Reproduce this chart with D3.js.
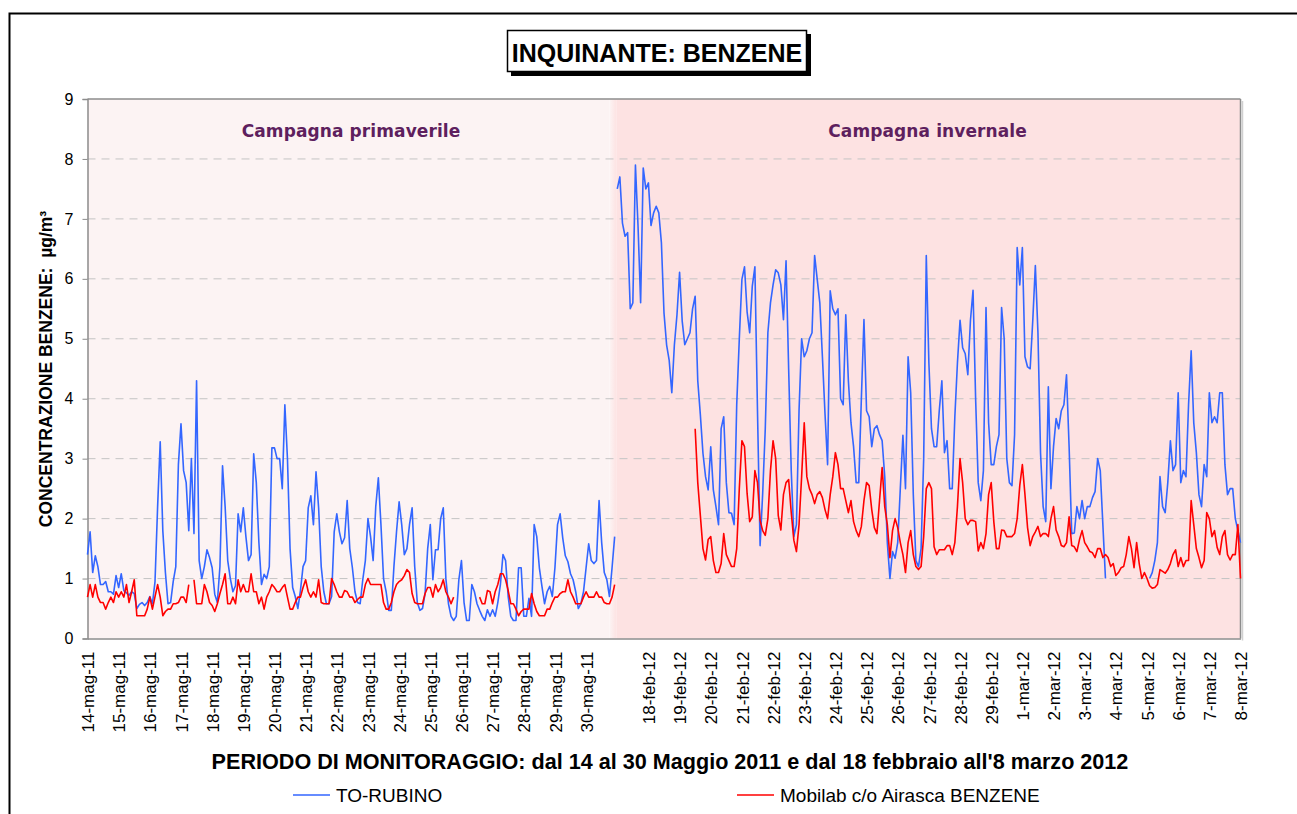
<!DOCTYPE html>
<html>
<head>
<meta charset="utf-8">
<script src="https://cdn.jsdelivr.net/npm/d3@7"></script>
<style>
  body { margin: 0; background: #fff; }
  svg { display: block; font-family: Arial, "Liberation Sans", sans-serif; }
</style>
</head>
<body>
<svg id="chart" width="1297" height="814"></svg>
<script>
// one label per day, every 24 hourly categories (17 feb has no label)
const dayLabels = [
  "14-mag-11","15-mag-11","16-mag-11","17-mag-11","18-mag-11","19-mag-11","20-mag-11",
  "21-mag-11","22-mag-11","23-mag-11","24-mag-11","25-mag-11","26-mag-11","27-mag-11",
  "28-mag-11","29-mag-11","30-mag-11","",
  "18-feb-12","19-feb-12","20-feb-12","21-feb-12","22-feb-12","23-feb-12","24-feb-12",
  "25-feb-12","26-feb-12","27-feb-12","28-feb-12","29-feb-12",
  "1-mar-12","2-mar-12","3-mar-12","4-mar-12","5-mar-12","6-mar-12","7-mar-12","8-mar-12"
];
const seriesNames = ["TO-RUBINO", "Mobilab c/o Airasca BENZENE"];
const seriesColors = ["#3366ff", "#ff0000"];
const campaigns = ["Campagna primaverile", "Campagna invernale"];

// values read every 2 hours, 12 per day
// spring campaign: 14-30 May 2011
const rubinoMay = [
  1.4,1.78,1.1,1.38,1.2,0.9,0.9,0.95,0.78,0.78,0.74,1.05,
  0.85,1.08,0.8,0.76,0.72,0.78,0.75,0.5,0.57,0.6,0.55,0.6,
  0.7,0.58,0.95,2.2,3.28,1.8,1.1,0.58,0.6,0.95,1.2,2.9,
  3.58,2.8,2.6,1.8,3.0,1.75,4.3,1.3,1.0,1.2,1.48,1.35,
  1.18,0.74,0.6,1.2,2.88,2.2,1.3,1.0,0.78,0.88,2.08,1.78,
  2.18,1.7,1.3,1.4,3.08,2.6,1.6,0.9,1.07,1.0,1.2,3.18,
  3.18,3.0,3.0,2.5,3.9,3.0,1.5,0.85,0.7,0.5,0.8,1.2,
  1.3,2.18,2.38,1.9,2.78,2.18,1.2,0.78,0.58,0.58,0.7,1.78,
  2.08,1.78,1.58,1.68,2.3,1.5,1.18,0.78,0.6,0.58,0.98,1.3,
  2.0,1.7,1.3,2.2,2.68,1.9,1.0,0.78,0.47,0.47,1.2,1.78,
  2.28,1.9,1.4,1.5,1.9,2.18,1.2,0.6,0.47,0.5,0.75,1.5,
  1.9,0.98,1.48,1.48,2.0,2.18,1.0,0.58,0.37,0.3,0.37,0.98,
  1.3,0.6,0.3,0.3,0.9,0.78,0.58,0.47,0.37,0.3,0.48,0.37,
  0.48,0.37,0.6,0.9,1.4,1.3,0.7,0.37,0.3,0.3,1.18,1.18,
  0.37,0.37,0.67,0.37,1.9,1.7,1.18,0.87,0.58,0.78,0.87,0.7,
  1.18,1.9,2.08,1.68,1.38,1.28,1.08,0.98,0.78,0.5,0.58,0.78,
  1.18,1.58,1.3,1.25,1.3,2.3,1.6,1.1,0.98,0.7,1.18,1.7
];
const mobilabMay = [
  0.69,0.9,0.69,0.9,0.69,0.6,0.6,0.49,0.6,0.69,0.6,0.78,
  0.69,0.78,0.69,0.9,0.6,0.78,0.98,0.38,0.38,0.38,0.38,0.49,
  0.69,0.49,0.7,0.9,0.69,0.38,0.45,0.49,0.49,0.58,0.58,0.6,
  0.69,0.69,0.6,0.9,null,0.98,0.58,0.58,0.58,0.9,0.78,0.6,
  0.55,0.45,0.58,0.75,0.9,1.08,0.58,0.58,0.69,0.58,0.98,0.78,
  0.9,0.78,0.78,1.08,0.78,0.78,0.58,0.69,0.49,0.69,0.78,0.9,
  0.85,0.78,0.78,0.85,0.9,0.69,0.49,0.49,0.6,0.69,0.69,0.85,
  0.98,0.78,0.69,0.78,0.69,0.98,0.6,0.58,0.58,0.58,1.0,0.9,
  0.78,0.69,0.69,0.8,0.78,0.69,0.69,0.6,0.65,0.69,0.69,0.9,
  1.0,0.9,0.9,0.9,0.9,0.9,0.6,0.49,0.49,0.6,0.78,0.9,
  0.95,0.98,1.05,1.15,1.1,0.75,0.6,0.58,0.58,0.58,0.75,0.85,
  0.85,0.69,0.9,0.78,0.85,0.98,0.78,0.69,0.58,0.69,null,null,
  null,null,null,null,null,null,null,0.69,0.58,0.58,0.8,0.78,
  0.58,0.78,0.9,1.08,1.08,0.98,0.8,0.58,0.58,0.49,0.38,0.45,
  0.49,0.49,0.49,0.75,0.58,0.45,0.38,0.38,0.38,0.49,0.49,0.6,
  0.69,0.69,0.75,0.78,0.78,0.98,0.78,0.69,0.58,0.58,0.58,0.69,
  0.78,0.69,0.69,0.69,0.78,0.69,0.69,0.6,0.58,0.58,0.69,0.9
];
// winter campaign: 17 Feb - 8 Mar 2012
const rubinoFeb = [
  7.5,7.7,6.93,6.71,6.77,5.5,5.6,7.9,6.88,5.6,7.85,7.5,
  7.6,6.89,7.1,7.21,7.1,6.6,5.43,4.9,4.64,4.1,4.9,5.4,
  6.11,5.3,4.9,5.0,5.1,5.5,5.71,4.3,3.73,3.09,2.7,2.48,
  3.2,2.48,2.2,1.9,3.5,3.7,2.6,2.1,2.09,1.9,3.9,5.0,
  5.99,6.2,5.45,5.1,5.88,6.2,3.8,1.55,2.42,3.5,5.1,5.6,
  5.9,6.15,6.1,5.9,5.32,6.3,4.5,2.8,1.7,1.9,3.8,5.0,
  4.7,4.8,5.0,5.1,6.39,5.99,5.6,4.7,3.75,2.9,5.8,5.5,
  5.4,5.5,4.0,3.9,5.4,4.3,3.6,3.2,2.6,2.6,4.0,5.32,
  3.8,3.7,3.2,3.5,3.55,3.4,3.3,2.7,1.6,1.0,1.45,1.34,
  1.6,2.5,3.39,2.5,4.7,4.1,2.4,1.3,1.2,1.5,3.0,6.39,
  4.6,3.5,3.2,3.2,3.8,4.3,3.1,3.3,2.5,2.5,3.7,4.6,
  5.31,4.85,4.75,4.4,5.3,5.81,4.0,2.6,2.3,2.8,5.52,3.6,
  2.9,2.9,3.2,3.4,5.52,5.0,3.0,2.6,2.55,3.4,6.52,5.9,
  6.52,4.7,4.53,4.5,5.3,6.22,5.1,3.09,2.2,1.95,4.2,2.5,
  3.2,3.67,3.5,3.8,3.9,4.4,3.2,1.75,1.76,2.2,2.0,2.3,
  2.0,2.2,2.2,2.35,2.45,3.0,2.8,1.9,1.0,null,null,null,
  null,null,null,null,null,null,null,null,null,null,null,null,
  null,1.0,1.1,1.3,1.6,2.7,2.2,2.1,2.6,3.3,2.8,2.9,
  4.1,2.6,2.8,2.7,3.9,4.8,3.6,3.1,2.4,2.2,2.9,2.7,
  4.1,3.6,3.7,3.6,4.1,4.1,2.9,2.4,2.5,2.5,2.0,1.8,
  1.6
];
const mobilabFeb = [
  null,null,null,null,null,null,null,null,null,null,null,null,
  null,null,null,null,null,null,null,null,null,null,null,null,
  null,null,null,null,null,null,3.5,2.6,2.05,1.5,1.31,1.65,
  1.7,1.3,1.1,1.1,1.25,1.75,1.4,1.3,1.2,1.2,1.5,2.5,
  3.3,3.2,2.42,1.95,2.03,2.8,2.6,1.97,1.8,1.72,2.0,2.8,
  3.3,3.0,2.05,1.81,2.4,2.6,2.65,2.1,1.64,1.45,1.9,2.7,
  3.6,2.7,2.5,2.4,2.25,2.4,2.45,2.35,2.15,2.0,2.4,2.7,
  3.1,2.9,2.5,2.5,2.3,2.1,2.3,1.95,1.8,1.7,1.87,2.3,
  2.6,2.55,2.15,1.85,1.75,2.3,2.85,2.2,1.9,1.35,1.8,2.0,
  1.85,1.6,1.4,1.1,1.6,1.8,1.4,1.2,1.15,1.2,1.7,2.5,
  2.6,2.5,1.53,1.4,1.48,1.48,1.48,1.55,1.55,1.4,1.6,2.2,
  3.0,2.6,2.0,1.9,1.97,1.97,1.95,1.46,1.6,1.5,1.75,2.4,
  2.6,1.95,1.5,1.5,1.81,1.8,1.7,1.7,1.7,1.75,2.0,2.55,
  2.9,2.4,1.85,1.55,1.7,1.78,1.87,1.7,1.75,1.75,1.7,2.0,
  2.2,1.81,1.7,1.55,1.53,1.6,2.03,1.55,1.53,1.45,1.65,1.8,
  1.6,1.53,1.45,1.43,1.35,1.5,1.5,1.35,1.4,1.35,1.2,1.25,
  1.05,1.1,1.18,1.2,1.4,1.7,1.5,1.18,1.6,1.25,1.0,1.1,
  1.0,0.88,0.84,0.85,0.9,1.15,1.12,1.09,1.15,1.25,1.4,1.48,
  1.2,1.35,1.2,1.3,1.3,2.3,1.9,1.5,1.35,1.18,1.3,2.1,
  2.0,1.7,1.8,1.52,1.4,1.7,1.8,1.4,1.31,1.4,1.4,1.9,
  1.0
];
const winterStart = 408;   // first hourly category of the winter block
const lastHour = 888;      // 8 mar 00:00

const svg = d3.select("#chart");
const plotL = 87.5, plotR = 1240.5, plotT = 99, plotB = 638.5;

const x = d3.scaleLinear().domain([0, lastHour]).range([plotL, plotR]);
const y = d3.scaleLinear().domain([0, 9]).range([plotB, plotT]);

// outer frame
svg.append("rect").attr("x", 9.5).attr("y", 13.5).attr("width", 1400).attr("height", 900)
  .attr("fill", "none").attr("stroke", "#000").attr("stroke-width", 2);

// title box with shadow
svg.append("rect").attr("x", 511).attr("y", 34).attr("width", 300).attr("height", 42).attr("fill", "#000");
svg.append("rect").attr("x", 507.5).attr("y", 30.5).attr("width", 299).attr("height", 41)
  .attr("fill", "#fff").attr("stroke", "#000").attr("stroke-width", 1.5);
svg.append("text").attr("x", 657).attr("y", 61.5).attr("text-anchor", "middle")
  .attr("font-size", 25).attr("font-weight", "bold").text("INQUINANTE: BENZENE");

// backgrounds of the two campaigns
const split = x(406);
const defs = svg.append("defs");
const grad = defs.append("linearGradient").attr("id", "edge");
grad.append("stop").attr("offset", "0%").attr("stop-color", "#fcf3f3");
grad.append("stop").attr("offset", "100%").attr("stop-color", "#fde2e2");
svg.append("rect").attr("x", plotL).attr("y", plotT).attr("width", split - 5 - plotL).attr("height", plotB - plotT).attr("fill", "#fcf3f3");
svg.append("rect").attr("x", split - 5).attr("y", plotT).attr("width", 7).attr("height", plotB - plotT).attr("fill", "url(#edge)");
svg.append("rect").attr("x", split + 2).attr("y", plotT).attr("width", plotR - split - 2).attr("height", plotB - plotT).attr("fill", "#fde2e2");

// gridlines
svg.append("g").selectAll("line").data(d3.range(1, 9)).join("line")
  .attr("x1", plotL).attr("x2", plotR).attr("y1", d => y(d)).attr("y2", d => y(d))
  .attr("stroke", "#c4c4c4").attr("stroke-width", 1).attr("stroke-dasharray", "8,6");

// plot frame (top and right)
svg.append("line").attr("x1", plotL).attr("x2", plotR).attr("y1", plotT).attr("y2", plotT)
  .attr("stroke", "#8c8c8c").attr("stroke-width", 1.5);
svg.append("line").attr("x1", plotR + 2).attr("x2", plotR + 2).attr("y1", plotT + 2).attr("y2", plotB + 2)
  .attr("stroke", "#d0d0d0").attr("stroke-width", 1.5);
svg.append("line").attr("x1", plotR).attr("x2", plotR).attr("y1", plotT).attr("y2", plotB)
  .attr("stroke", "#8c8c8c").attr("stroke-width", 1.5);

// campaign labels
svg.append("g").selectAll("text").data(campaigns).join("text")
  .attr("x", (d, i) => i === 0 ? (plotL + split) / 2 : (split + plotR) / 2)
  .attr("y", 137).attr("text-anchor", "middle")
  .attr("font-family", "'DejaVu Sans', Verdana, sans-serif")
  .attr("font-size", 17).attr("font-weight", "bold").attr("letter-spacing", 0.1)
  .attr("fill", "#5e1f5e").text(d => d);

// y axis
const yAxis = svg.append("g").attr("transform", `translate(${plotL},0)`)
  .call(d3.axisLeft(y).tickValues(d3.range(0, 10)).tickSize(5).tickPadding(9).tickFormat(d3.format("d")));
yAxis.select(".domain").attr("stroke", "#8c8c8c").attr("stroke-width", 1.5);
yAxis.selectAll(".tick line").attr("stroke", "#8c8c8c");
yAxis.selectAll(".tick text").attr("font-size", 16).attr("fill", "#000");

// x axis
const xAxis = svg.append("g").attr("transform", `translate(0,${plotB})`)
  .call(d3.axisBottom(x).tickValues(dayLabels.map((d, i) => i * 24)).tickSize(0)
    .tickFormat((d, i) => dayLabels[i]));
xAxis.select(".domain").attr("stroke", "#8c8c8c").attr("stroke-width", 1.5);
xAxis.selectAll(".tick text")
  .attr("transform", "rotate(-90)").attr("text-anchor", "end")
  .attr("x", -13).attr("y", 0).attr("dy", "0.36em")
  .attr("font-size", 17).attr("fill", "#000");

// axis titles
svg.append("text").attr("transform", "translate(52,369) rotate(-90)").attr("text-anchor", "middle")
  .attr("font-size", 17.5).attr("font-weight", "bold").text("CONCENTRAZIONE BENZENE:\u00a0\u00a0µg/m³");
svg.append("text").attr("x", 670).attr("y", 769).attr("text-anchor", "middle")
  .attr("font-size", 21.6).attr("font-weight", "bold")
  .text("PERIODO DI MONITORAGGIO: dal 14 al 30 Maggio 2011 e dal 18 febbraio all'8 marzo 2012");

// series
const toPoints = (arr, start) => arr.map((v, i) => ({ h: start + i * 2, v: v }));
const line = d3.line().defined(d => d.v != null).x(d => x(d.h)).y(d => y(d.v));
const series = [
  [toPoints(rubinoMay, 0), toPoints(rubinoFeb, winterStart)],
  [toPoints(mobilabMay, 0), toPoints(mobilabFeb, winterStart)]
];
series.forEach((blocks, s) => {
  blocks.forEach(pts => {
    svg.append("path").datum(pts).attr("d", line)
      .attr("fill", "none").attr("stroke", seriesColors[s])
      .attr("stroke-width", 1.6).attr("stroke-linejoin", "round");
  });
});

// legend
const legendX = [293, 737];
const legend = svg.append("g").selectAll("g").data(seriesNames).join("g")
  .attr("transform", (d, i) => `translate(${legendX[i]},795)`);
legend.append("line").attr("x1", 0).attr("x2", 37).attr("y1", 0).attr("y2", 0)
  .attr("stroke", (d, i) => seriesColors[i]).attr("stroke-width", 1.6);
legend.append("text").attr("x", 43).attr("y", 6.5).attr("font-size", 19).text(d => d);
</script>
</body>
</html>
